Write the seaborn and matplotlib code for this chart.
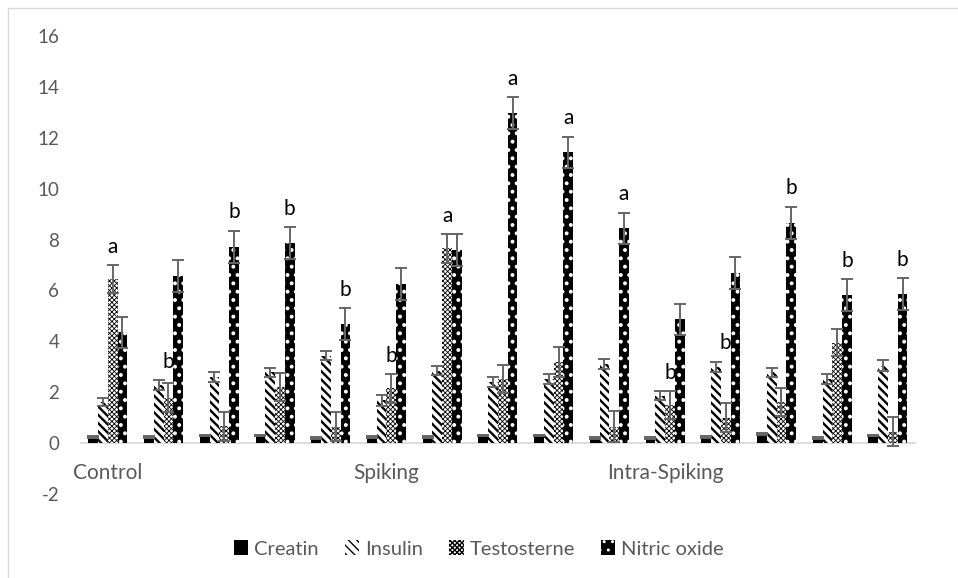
import numpy as np
import pandas as pd
import matplotlib
matplotlib.use('Agg')
import matplotlib.pyplot as plt
from matplotlib.patches import Patch, Rectangle
import seaborn as sns

# data
series = ['Creatin', 'Insulin', 'Testosterne', 'Nitric oxide']
groups = [str(i) for i in range(1, 16)]
group_labels = ['Control', '', '', '', '', 'Spiking', '', '', '', '',
                'Intra-Spiking', '', '', '', '']

creatin = [0.25, 0.25, 0.3, 0.3, 0.2, 0.25, 0.25, 0.3, 0.3, 0.2, 0.2, 0.25, 0.35, 0.2, 0.3]
creatin_err = [0.03, 0.03, 0.03, 0.03, 0.03, 0.03, 0.03, 0.03, 0.03, 0.03, 0.03, 0.03, 0.03, 0.03, 0.03]
insulin = [1.62, 2.28, 2.6, 2.78, 3.43, 1.68, 2.85, 2.4, 2.52, 3.12, 1.87, 3.0, 2.78, 2.52, 3.05]
insulin_err = [0.17, 0.2, 0.2, 0.17, 0.18, 0.22, 0.18, 0.18, 0.2, 0.2, 0.18, 0.2, 0.17, 0.2, 0.2]
testo = [6.44, 1.79, 0.66, 2.2, 0.65, 2.15, 7.65, 2.52, 3.18, 0.65, 1.5, 1.0, 1.6, 3.95, 0.45]
testo_err = [0.55, 0.56, 0.57, 0.56, 0.58, 0.56, 0.56, 0.56, 0.58, 0.6, 0.55, 0.56, 0.55, 0.54, 0.56]
nitric = [4.35, 6.56, 7.72, 7.85, 4.67, 6.27, 7.58, 12.98, 11.43, 8.44, 4.86, 6.7, 8.66, 5.83, 5.85]
nitric_err = [0.62, 0.62, 0.63, 0.63, 0.63, 0.63, 0.62, 0.62, 0.62, 0.62, 0.62, 0.63, 0.63, 0.62, 0.62]

letters = ['a', 'b', 'b', 'b', 'b', 'b', 'a', 'a', 'a', 'a', 'b', 'b', 'b', 'b', 'b']
letter_series = ['Testosterne', 'Testosterne', 'Nitric oxide', 'Nitric oxide', 'Nitric oxide',
                 'Testosterne', 'Testosterne', 'Nitric oxide', 'Nitric oxide', 'Nitric oxide',
                 'Testosterne', 'Testosterne', 'Nitric oxide', 'Nitric oxide', 'Nitric oxide']

values = [creatin, insulin, testo, nitric]
errors = [creatin_err, insulin_err, testo_err, nitric_err]

# fill, hatch colour, hatch, hatch width
styles = [
    ('black', 'black', '', 1.0),
    ('white', 'black', '\\\\\\\\', 1.7),
    ('white', 'black', 'xxxxxxx', 0.6),
    ('black', 'white', '..', 1.6),
]

df = pd.DataFrame({
    'group': groups * len(series),
    'series': np.repeat(series, len(groups)),
    'value': sum(values, []),
})

sns.set_style('white')
plt.rcParams['font.family'] = ['Lato', 'DejaVu Sans']
plt.rcParams['axes.unicode_minus'] = False

fig, ax = plt.subplots(figsize=(9.58, 5.78), dpi=100)
fig.subplots_adjust(left=0.0835, right=0.956, top=0.9377, bottom=0.1453)

sns.barplot(data=df, x='group', y='value', hue='series', order=groups,
            hue_order=series, palette=['black', 'white', 'white', 'black'],
            width=0.7, errorbar=None, legend=False, saturation=1,
            linewidth=0, ax=ax)
bars = list(ax.containers)


def style_patch(p, st):
    fc, hc, hatch, hlw = st
    p.set_facecolor(fc)
    p.set_edgecolor(hc)
    p.set_linewidth(0)
    if hatch:
        p.set_hatch(hatch)
    if hasattr(p, 'set_hatch_linewidth'):
        p.set_hatch_linewidth(hlw)


tops = []
for k, cont in enumerate(bars):
    for p in cont.patches:
        style_patch(p, styles[k])
    xs = [p.get_x() + p.get_width() / 2 for p in cont.patches]
    ys = [p.get_height() for p in cont.patches]
    ax.errorbar(xs, ys, yerr=errors[k], fmt='none', ecolor='#666666',
                elinewidth=1.4, capsize=4.5, capthick=1.4, zorder=3)
    tops.append([y + e for y, e in zip(ys, errors[k])])

# significance letters
for i, (let, s) in enumerate(zip(letters, letter_series)):
    k = series.index(s)
    p = bars[k].patches[i]
    y = max(tops[j][i] for j in range(k + 1)) + 0.72
    ax.text(p.get_x() + p.get_width() / 2, y, let, ha='center', va='center',
            fontsize=15, color='black')

ax.axhline(0, color='#D9D9D9', lw=1.3, zorder=0.5)
for s in ax.spines.values():
    s.set_visible(False)

ax.set_xlim(-0.5, len(groups) - 0.5)
ax.set_ylim(-2, 16)
ax.set_yticks(range(-2, 17, 2))
ax.set_xticks(range(len(groups)))
ax.set_xticklabels(group_labels)
ax.tick_params(axis='y', length=0, pad=15, labelsize=13.5, colors='#595959')
ax.tick_params(axis='x', length=0, pad=-22, labelsize=15, colors='#595959')
ax.set_xlabel('')
ax.set_ylabel('')

handles = []
for st in styles:
    h = Patch()
    style_patch(h, st)
    handles.append(h)
fig.legend(handles, series, loc='center', bbox_to_anchor=(0.5, 1 - 549 / 578),
           ncol=4, frameon=False, handlelength=0.7, handleheight=0.7,
           handletextpad=0.3, columnspacing=1.3, fontsize=14.5,
           labelcolor='#595959')

fig.add_artist(Rectangle((8 / 958, -0.5), 2, 1.5 - 8 / 578,
                         transform=fig.transFigure, fill=False,
                         edgecolor='#D9D9D9', lw=1))

fig.savefig('out.png', dpi=100)
